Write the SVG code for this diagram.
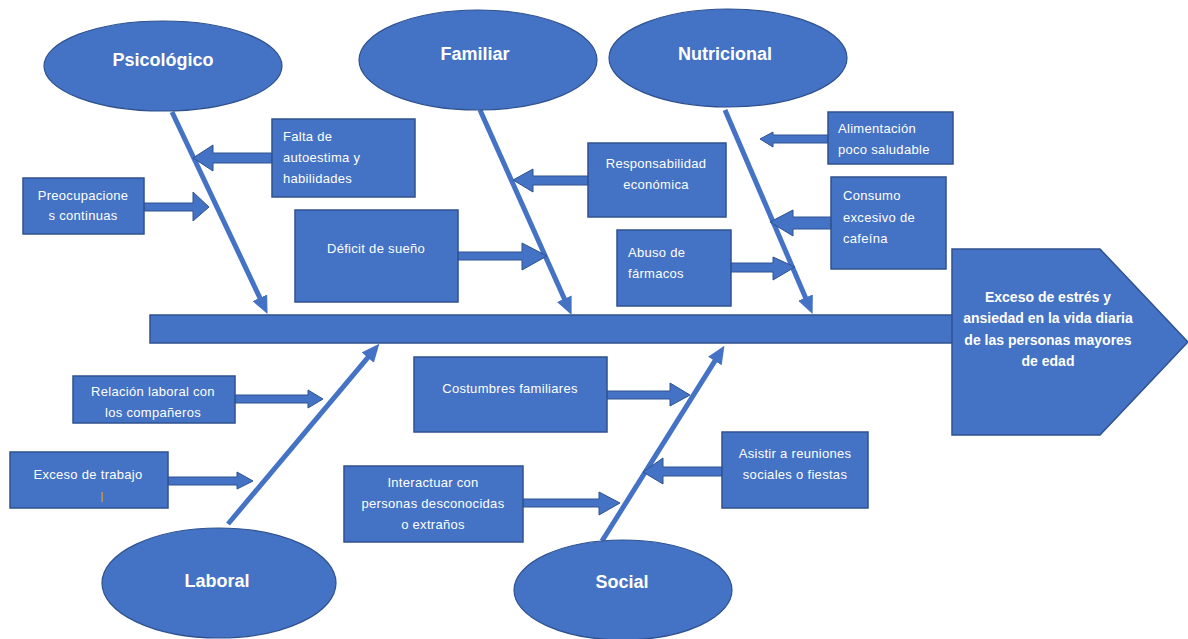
<svg xmlns="http://www.w3.org/2000/svg" width="1188" height="639" viewBox="0 0 1188 639">
<style>
.box{fill:#4472C4;stroke:#2F528F;stroke-width:1.5}
.ell{fill:#4472C4;stroke:#2F528F;stroke-width:1.2}
.barr{fill:#4472C4;stroke:#2F528F;stroke-width:1}
.bone{stroke:#4472C4;stroke-width:5;fill:none;marker-end:url(#ah)}
.t{font-family:"Liberation Sans",Arial,sans-serif;font-size:13px;fill:#fff;letter-spacing:0.3px}
.c{text-anchor:middle}
.h{font-family:"Liberation Sans",Arial,sans-serif;font-size:18px;font-weight:bold;fill:#fff;text-anchor:middle}
.hd{font-family:"Liberation Sans",Arial,sans-serif;font-size:14px;font-weight:bold;fill:#fff;text-anchor:middle}
</style>
<defs>
<marker id="ah" markerUnits="userSpaceOnUse" markerWidth="18" markerHeight="16" viewBox="0 0 18 16" refX="1" refY="8" orient="auto">
<path d="M0,0 L18,8 L0,16 z" fill="#4472C4"/>
</marker>
</defs>
<rect width="1188" height="639" fill="#fff"/>

<g id="spine">
<rect class="box" x="150" y="315" width="803" height="28"/>
</g>
<g id="head">
<polygon class="box" points="952,249 1100,249 1188,342 1100,435 952,435"/>
<text class="hd" x="1048" y="302">Exceso de estrés y</text>
<text class="hd" x="1048" y="323">ansiedad en la vida diaria</text>
<text class="hd" x="1048" y="345">de las personas mayores</text>
<text class="hd" x="1048" y="366">de edad</text>
</g>

<g id="connectors">
<path class="bone" d="M172,112 L260.3,298.7"/>
<path class="bone" d="M480,110 L564.7,299.6"/>
<path class="bone" d="M725,110 L805.9,298.5"/>
<path class="bone" d="M228,524 L368.4,356.8"/>
<path class="bone" d="M602,541 L715.4,360.2"/>
<polygon class="barr" points="272,153 213,153 213,145 193,158 213,171 213,163 272,163"/>
<polygon class="barr" points="144,203 193,203 193,192 209,207 193,221 193,211 144,211"/>
<polygon class="barr" points="458,252 522,252 522,243 547,256 522,270 522,260 458,260"/>
<polygon class="barr" points="588,176 533,176 533,169 513,180 533,192 533,185 588,185"/>
<polygon class="barr" points="731,263 773,263 773,257 795,267 773,280 773,272 731,272"/>
<polygon class="barr" points="828,135 773,135 773,132 760,139 773,147 773,143 828,143"/>
<polygon class="barr" points="831,217 793,217 793,210 770,222 793,236 793,229 831,229"/>
<polygon class="barr" points="235,395 308,395 308,390 323,399 308,408 308,403 235,403"/>
<polygon class="barr" points="168,477 237,477 237,472 253,481 237,489 237,485 168,485"/>
<polygon class="barr" points="607,391 670,391 670,383 690,395 670,406 670,399 607,399"/>
<polygon class="barr" points="722,467 663,467 663,458 643,472 663,484 663,476 722,476"/>
<polygon class="barr" points="523,499 599,499 599,492 620,503 599,515 599,507 523,507"/>
</g>

<g id="psicologico">
<ellipse class="ell" cx="163" cy="66" rx="119" ry="45"/>
<text class="h" x="163" y="66">Psicológico</text>
</g>
<g id="familiar">
<ellipse class="ell" cx="478" cy="60" rx="119" ry="50"/>
<text class="h" x="475" y="60">Familiar</text>
</g>
<g id="nutricional">
<ellipse class="ell" cx="728" cy="58" rx="119" ry="49"/>
<text class="h" x="725" y="60">Nutricional</text>
</g>
<g id="laboral">
<ellipse class="ell" cx="219" cy="583" rx="117" ry="55"/>
<text class="h" x="217" y="587">Laboral</text>
</g>
<g id="social">
<ellipse class="ell" cx="623" cy="590" rx="109" ry="50"/>
<text class="h" x="622" y="588">Social</text>
</g>

<g id="falta">
<rect class="box" x="272" y="119" width="143" height="78"/>
<text class="t" x="283" y="141">Falta de</text>
<text class="t" x="283" y="162">autoestima y</text>
<text class="t" x="283" y="183">habilidades</text>
</g>
<g id="preocupaciones">
<rect class="box" x="23" y="178" width="121" height="56"/>
<text class="t c" x="83" y="200">Preocupacione</text>
<text class="t c" x="83" y="220">s continuas</text>
</g>
<g id="deficit">
<rect class="box" x="295" y="210" width="163" height="92"/>
<text class="t c" x="376" y="253">Déficit de sueño</text>
</g>
<g id="responsabilidad">
<rect class="box" x="588" y="143" width="138" height="74"/>
<text class="t c" x="656" y="168">Responsabilidad</text>
<text class="t c" x="656" y="189">económica</text>
</g>
<g id="abuso">
<rect class="box" x="617" y="230" width="114" height="76"/>
<text class="t" x="628" y="257">Abuso de</text>
<text class="t" x="628" y="278">fármacos</text>
</g>
<g id="alimentacion">
<rect class="box" x="828" y="112" width="125" height="52"/>
<text class="t" x="838" y="133">Alimentación</text>
<text class="t" x="838" y="154">poco saludable</text>
</g>
<g id="consumo">
<rect class="box" x="831" y="177" width="115" height="92"/>
<text class="t" x="843" y="200">Consumo</text>
<text class="t" x="843" y="222">excesivo  de</text>
<text class="t" x="843" y="243">cafeína</text>
</g>
<g id="relacion">
<rect class="box" x="73" y="376" width="162" height="47"/>
<text class="t c" x="153" y="396">Relación laboral con</text>
<text class="t c" x="153" y="417">los compañeros</text>
</g>
<g id="exceso-trabajo">
<rect class="box" x="10" y="452" width="158" height="56"/>
<text class="t c" x="88" y="479">Exceso  de trabajo</text>
<rect x="101.5" y="492" width="1.2" height="10" fill="#E0A040"/>
</g>
<g id="costumbres">
<rect class="box" x="414" y="357" width="193" height="75"/>
<text class="t c" x="510" y="393">Costumbres familiares</text>
</g>
<g id="asistir">
<rect class="box" x="722" y="432" width="146" height="76"/>
<text class="t c" x="795" y="458">Asistir a reuniones</text>
<text class="t c" x="795" y="479">sociales o fiestas</text>
</g>
<g id="interactuar">
<rect class="box" x="344" y="466" width="179" height="76"/>
<text class="t c" x="433" y="487">Interactuar  con</text>
<text class="t c" x="433" y="508">personas desconocidas</text>
<text class="t c" x="433" y="529">o extraños</text>
</g>
</svg>
